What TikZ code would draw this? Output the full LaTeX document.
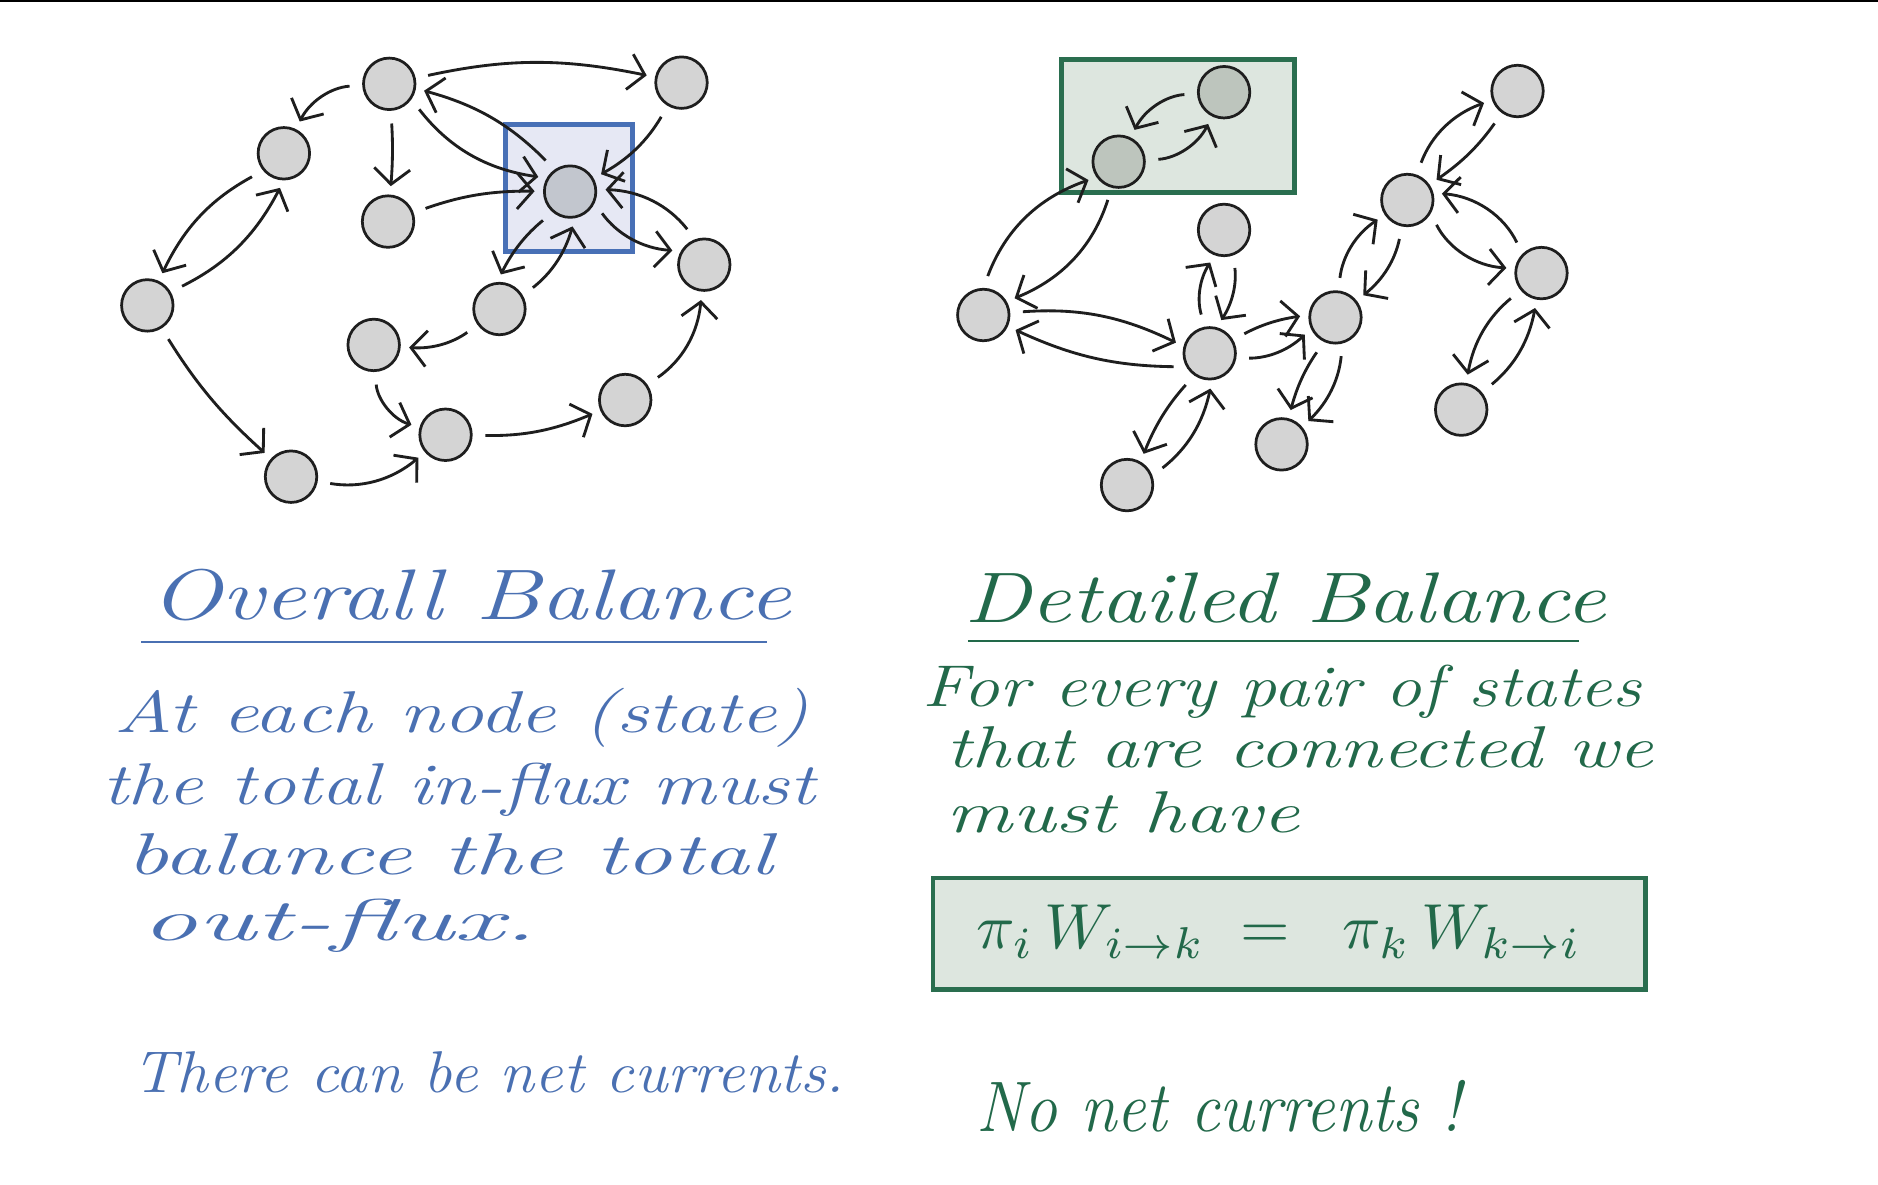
\documentclass[tikz,border=0pt]{standalone}
\usetikzlibrary{arrows.meta}
\definecolor{bluetxt}{HTML}{4A70B2}
\definecolor{greentxt}{HTML}{22694A}
\definecolor{blueframe}{HTML}{4870B6}
\definecolor{bluefill}{HTML}{E6E8F4}
\definecolor{greenframe}{HTML}{2A6E4F}
\definecolor{greenfill}{HTML}{DDE6DF}
\definecolor{nodegray}{HTML}{D4D4D4}
\definecolor{nodeblue}{HTML}{C2C6CE}
\definecolor{nodegreen}{HTML}{BDC5BD}
\definecolor{inkc}{HTML}{1E1E1E}
\newcommand\hwline[3]{\resizebox{#1}{\height}{\fontsize{#2}{#2}\selectfont\itshape #3}}
\begin{document}
\begin{tikzpicture}[x=0.02cm,y=-0.02cm,
  st/.style={circle, draw=inkc, fill=nodegray, line width=1.3pt, minimum size=0.86cm, inner sep=0pt},
  arr/.style={draw=inkc, line width=1.35pt, -{Straight Barb[length=2.6mm,width=6mm]}, shorten <=6pt, shorten >=4pt},
  txt/.style={anchor=base west, inner sep=0pt},
  btxt/.style={txt, text=bluetxt},
  gtxt/.style={txt, text=greentxt}]
\useasboundingbox (0,0) rectangle (1568,989);
\fill[white] (0,0) rectangle (1568,989);
\draw[black, line width=1.2pt] (0,1) -- (1568,1);

% ---------- left graph ----------
\draw[blueframe, fill=bluefill, line width=2.3pt] (422,104) rectangle (528,210);
\node[st] (n1) at (325,70) {};
\node[st] (n2) at (237,128) {};
\node[st] (n3) at (324,185) {};
\node[st] (n4) at (569,69) {};
\node[st, fill=nodeblue] (n5) at (476,160) {};
\node[st] (n6) at (588,221) {};
\node[st] (n7) at (123,255) {};
\node[st] (n8) at (417,258) {};
\node[st] (n9) at (312,288) {};
\node[st] (n10) at (372,363) {};
\node[st] (n11) at (522,334) {};
\node[st] (n12) at (243,398) {};

\draw[arr] (n1) to[bend right=30] (n2);
\draw[arr] (n1) to[bend left=4] (n3);
\draw[arr] (n1) to[bend left=12] (n4);
\draw[arr] (n4) to[bend left=15] (n5);
\draw[arr] (n1.-35) to[bend right=22] (n5.150);
\draw[arr] (n5.125) to[bend right=15] (n1.-10);
\draw[arr] (n3) to[bend left=10] (n5);
\draw[arr] (n5.230) to[bend right=12] (n8.95);
\draw[arr] (n8.30) to[bend right=18] (n5.-80);
\draw[arr] (n5.-25) to[bend right=25] (n6.150);
\draw[arr] (n6.110) to[bend right=25] (n5.5);
\draw[arr] (n8) to[bend left=20] (n9);
\draw[arr] (n9) to[bend right=35] (n10);
\draw[arr] (n12) to[bend right=25] (n10);
\draw[arr] (n7) to[bend right=8] (n12);
\draw[arr] (n2.220) to[bend right=18] (n7.65);
\draw[arr] (n7.30) to[bend right=18] (n2.-90);
\draw[arr] (n10) to[bend right=12] (n11);
\draw[arr] (n11) to[bend right=25] (n6);

% ---------- right graph ----------
\draw[greenframe, fill=greenfill, line width=2.3pt] (886,50) rectangle (1081,161);
\node[st, fill=nodegreen] (r1) at (1022,77) {};
\node[st, fill=nodegreen] (r2) at (934,135) {};
\node[st] (r3) at (1267,76) {};
\node[st] (r4) at (1022,192) {};
\node[st] (r5) at (1175,167) {};
\node[st] (r6) at (821,263) {};
\node[st] (r7) at (1010,295) {};
\node[st] (r8) at (1115,265) {};
\node[st] (r9) at (1287,228) {};
\node[st] (r10) at (941,405) {};
\node[st] (r11) at (1070,371) {};
\node[st] (r12) at (1220,342) {};

\draw[arr] (r1) to[bend right=30] (r2);
\draw[arr] (r2) to[bend right=30] (r1);
\draw[arr] (r6.90) to[bend left=25] (r2.215);
\draw[arr] (r2.255) to[bend left=25] (r6.30);
\draw[arr] (r6.5) to[bend left=15] (r7.165);
\draw[arr] (r7.210) to[bend left=12] (r6.-25);
\draw[arr] (r7.100) to[bend left=25] (r4.250);
\draw[arr] (r4.-70) to[bend left=20] (r7.75);
\draw[arr] (r7.235) to[bend right=10] (r10.60);
\draw[arr] (r10.20) to[bend right=20] (r7.-85);
\draw[arr] (r7.30) to[bend left=10] (r8.175);
\draw[arr] (r7.-10) to[bend right=22] (r8.205);
\draw[arr] (r8) to[bend left=25] (r5);
\draw[arr] (r5) to[bend left=20] (r8);
\draw[arr] (r8.245) to[bend right=10] (r11.75);
\draw[arr] (r8.-75) to[bend left=20] (r11.40);
\draw[arr] (r5) to[bend left=25] (r3);
\draw[arr] (r3) to[bend left=10] (r5);
\draw[arr] (r9.135) to[bend right=30] (r5.15);
\draw[arr] (r5.-30) to[bend right=30] (r9.170);
\draw[arr] (r9) to[bend right=20] (r12);
\draw[arr] (r12) to[bend right=20] (r9);

% ---------- left text ----------
\node[btxt] (t1) at (125,517) {\hwline{10.7cm}{34}{Overall Balance}};
\draw[bluetxt, line width=1.2pt] (118,536) -- (640,536);
\node[btxt] (t2) at (95,612) {\hwline{11.6cm}{28}{At each node (state)}};
\node[btxt] (t3) at (85,672) {\hwline{11.9cm}{28}{the total in-flux must}};
\node[btxt] (t4) at (105,730) {\hwline{10.8cm}{28}{balance the total}};
\node[btxt] (t5) at (118,785) {\hwline{6.6cm}{28}{out-flux.}};
\node[btxt] (t6) at (110,912) {\hwline{11.9cm}{28}{There can be net currents.}};

% ---------- right text ----------
\node[gtxt] (u1) at (805,520) {\hwline{10.7cm}{34}{Detailed Balance}};
\draw[greentxt, line width=1.2pt] (808,535) -- (1318,535);
\node[gtxt] (u2) at (770,590) {\hwline{12cm}{28}{For every pair of states}};
\node[gtxt] (u3) at (790,641) {\hwline{11.8cm}{28}{that are connected we}};
\node[gtxt] (u4) at (790,695) {\hwline{5.9cm}{28}{must have}};
\draw[greenframe, fill=greenfill, line width=2.3pt] (779,733) rectangle (1374,826);
\node[gtxt] (eq) at (815,792) {\resizebox{10.1cm}{!}{$\pi_i\,W_{i\to k} \;=\;\; \pi_k\,W_{k\to i}$}};
\node[gtxt] (u5) at (815,945) {\hwline{8.1cm}{34}{No net currents !}};
\end{tikzpicture}
\end{document}
